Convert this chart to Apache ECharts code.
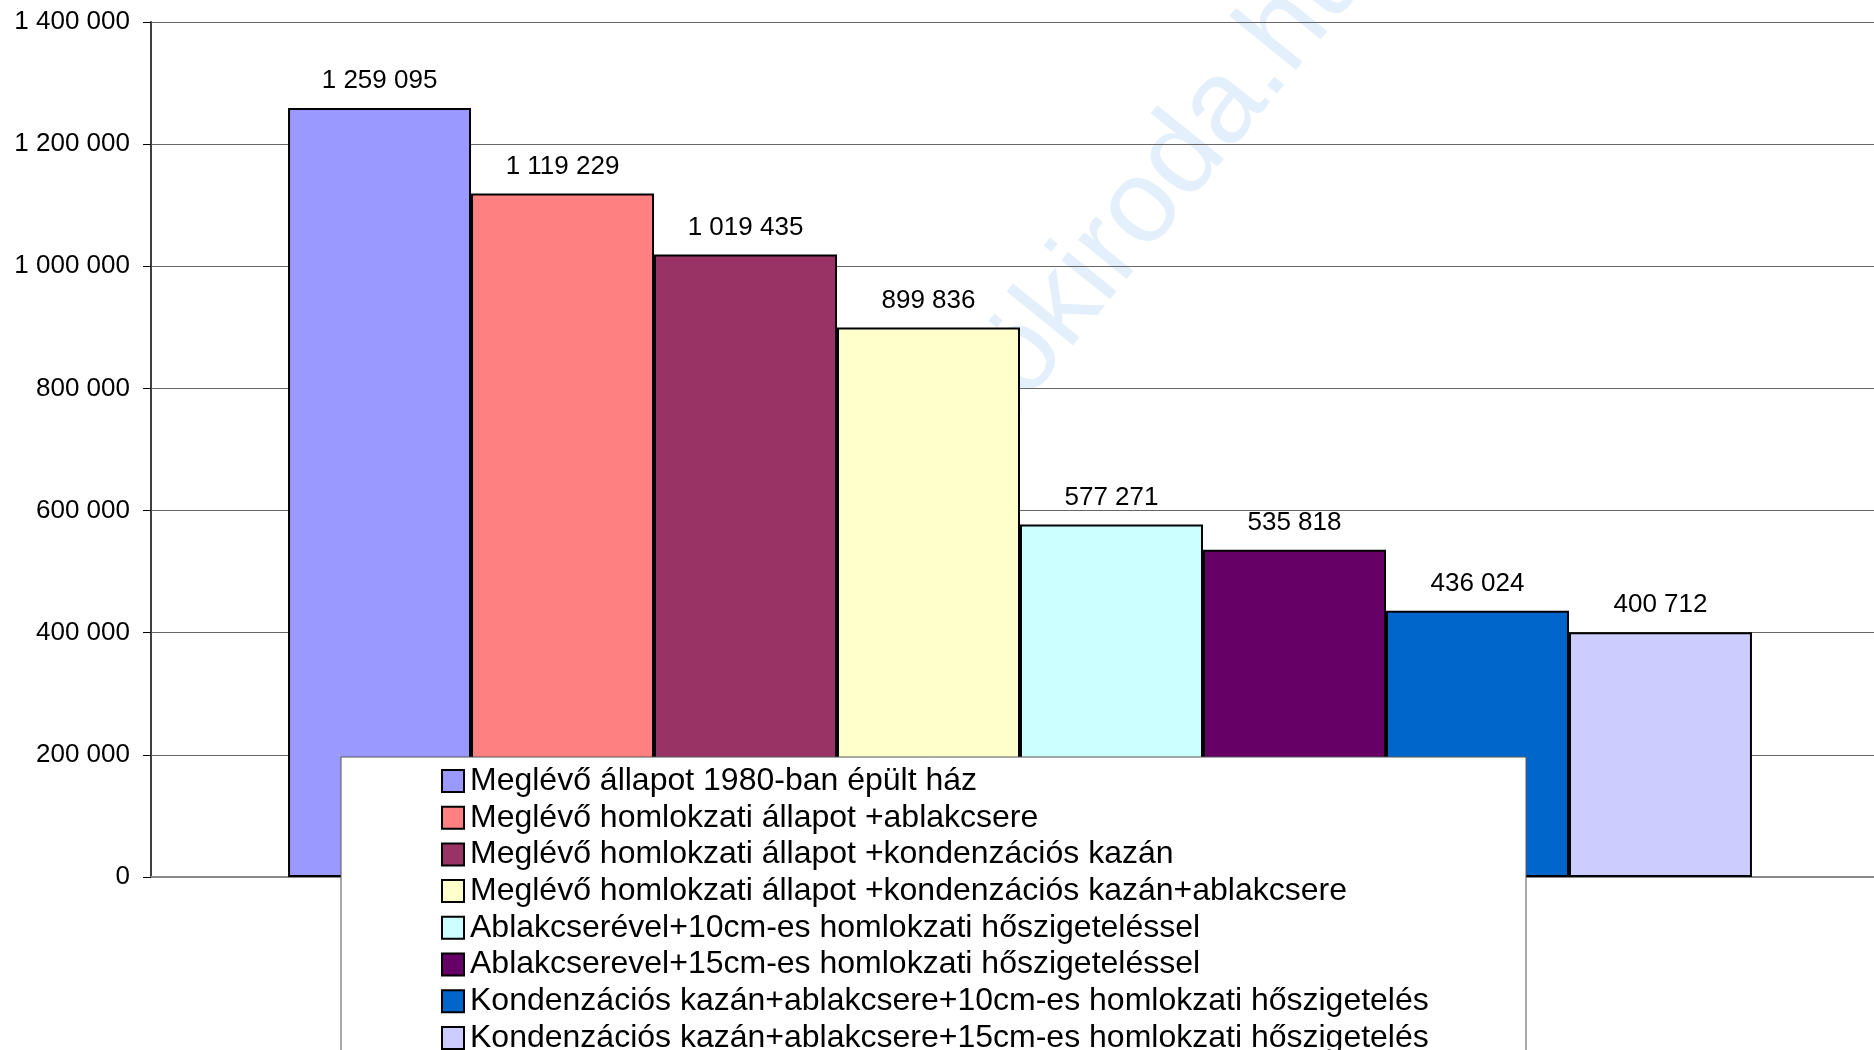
<!DOCTYPE html>
<html>
<head>
<meta charset="utf-8">
<script src="https://cdn.jsdelivr.net/npm/echarts@6/dist/echarts.min.js"></script>
<style>
html,body{margin:0;padding:0;background:#fff;}
#chart{width:1874px;height:1050px;}
</style>
</head>
<body>
<div id="chart"></div>
<script>
const categories = [''];
const seriesNames = [
  'Meglévő állapot 1980-ban épült ház',
  'Meglévő homlokzati állapot +ablakcsere',
  'Meglévő homlokzati állapot +kondenzációs kazán',
  'Meglévő homlokzati állapot +kondenzációs kazán+ablakcsere',
  'Ablakcserével+10cm-es homlokzati hőszigeteléssel',
  'Ablakcserevel+15cm-es homlokzati hőszigeteléssel',
  'Kondenzációs kazán+ablakcsere+10cm-es homlokzati hőszigetelés',
  'Kondenzációs kazán+ablakcsere+15cm-es homlokzati hőszigetelés'
];
const seriesValues = [1259095, 1119229, 1019435, 899836, 577271, 535818, 436024, 400712];
const seriesColors = ['#9999FF', '#FF8080', '#993366', '#FFFFCC', '#CCFFFF', '#660066', '#0066CC', '#CCCCFF'];
const yTicks = [0, 200000, 400000, 600000, 800000, 1000000, 1200000, 1400000];
const watermarkText = 'mernökiroda.hu';

const FONT = '"Liberation Sans", Arial, Helvetica, sans-serif';
function fmt(v) {
  return String(Math.round(v)).replace(/\B(?=(\d{3})+(?!\d))/g, ' ');
}

const chart = echarts.init(document.getElementById('chart'), null, {renderer: 'canvas'});

const series = seriesNames.map((name, i) => ({
  name: name,
  type: 'bar',
  data: [seriesValues[i]],
  barGap: '0%',
  barCategoryGap: '15.77%',
  itemStyle: {color: seriesColors[i], borderColor: '#000', borderWidth: 2},
  label: {
    show: true,
    position: 'top',
    distance: 14,
    formatter: p => fmt(p.value),
    fontSize: 26,
    fontFamily: FONT,
    color: '#000'
  },
  emphasis: {disabled: true},
  animation: false
}));

chart.setOption({
  animation: false,
  backgroundColor: '#fff',
  grid: {left: 151, top: 22, width: 1738, height: 855, containLabel: false, outerBoundsMode: 'none'},
  xAxis: {
    type: 'category',
    data: categories,
    axisLine: {show: true, lineStyle: {color: '#888', width: 2}},
    axisTick: {show: false},
    axisLabel: {show: false},
    splitLine: {show: false}
  },
  yAxis: {
    type: 'value',
    min: yTicks[0],
    max: yTicks[yTicks.length - 1],
    interval: yTicks[1] - yTicks[0],
    axisLine: {show: true, lineStyle: {color: '#404040', width: 2}},
    axisTick: {show: true, length: 8, lineStyle: {color: '#000', width: 1}},
    axisLabel: {
      formatter: v => fmt(v),
      fontSize: 26,
      fontFamily: FONT,
      color: '#000',
      margin: 21
    },
    splitLine: {show: true, lineStyle: {color: '#666', width: 1}}
  },
  legend: {
    show: true,
    type: 'plain',
    orient: 'vertical',
    left: 441,
    top: 765,
    width: 1000,
    height: 500,
    padding: 0,
    itemWidth: 22,
    itemHeight: 22,
    itemGap: 4.7,
    icon: 'rect',
    selectedMode: false,
    z: 5,
    itemStyle: {borderColor: '#000', borderWidth: 2},
    textStyle: {fontSize: 32, lineHeight: 32, fontFamily: FONT, color: '#000', padding: [0, 0, 0, 1]},
    data: seriesNames
  },
  graphic: [
    {
      type: 'text',
      z: -10,
      zlevel: 0,
      x: 878,
      y: 628,
      rotation: 51 * Math.PI / 180,
      silent: true,
      style: {
        text: watermarkText,
        font: '118px ' + FONT,
        fill: '#E3F0FC',
        align: 'left',
        verticalAlign: 'bottom',
        textAlign: 'left',
        textVerticalAlign: 'bottom'
      }
    },
    {
      type: 'rect',
      z: 3,
      silent: true,
      shape: {x: 341, y: 757, width: 1185, height: 400},
      style: {fill: '#fff', stroke: '#555', lineWidth: 1}
    }
  ],
  series: series
});
</script>
</body>
</html>
